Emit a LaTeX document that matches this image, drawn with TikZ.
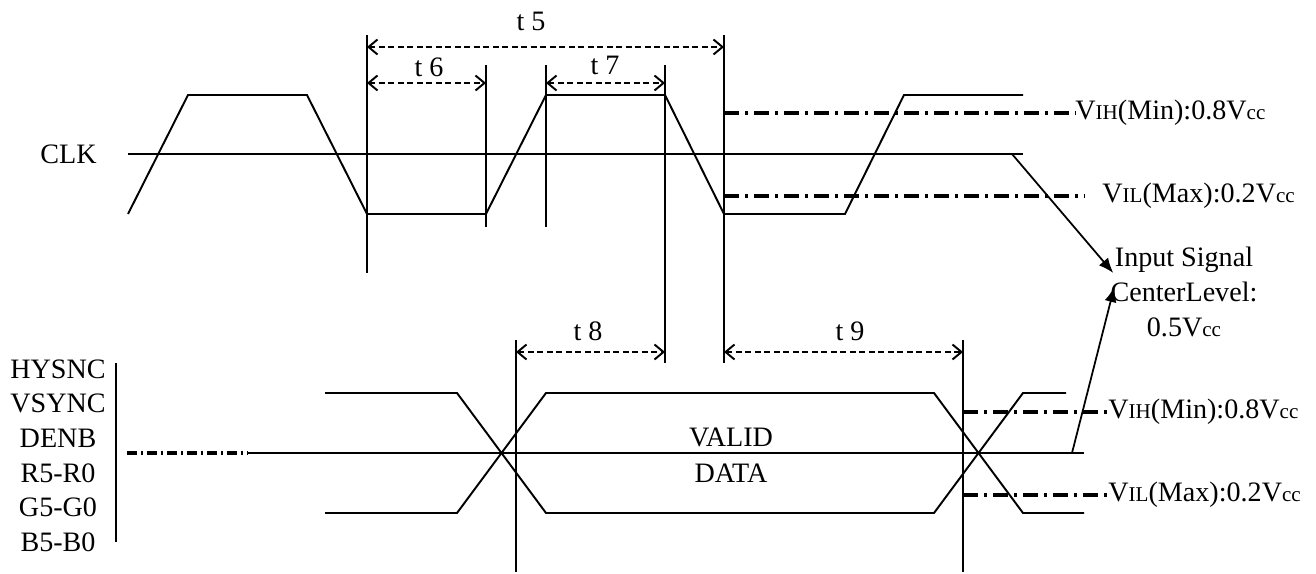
\documentclass[tikz,border=0pt]{standalone}
\usepackage{fontspec}
\setmainfont{Liberation Serif}
\usetikzlibrary{calc}
\usetikzlibrary{arrows.meta}
\newcommand{\smallpart}[1]{{\fontsize{12}{14}\selectfont #1}}
\tikzset{
  wave/.style={black, line width=1.1pt},
  guide/.style={black, line width=1pt},
  level/.style={black, line width=2.2pt, dash pattern=on 0.3cm off 0.12cm on 0.06cm off 0.12cm},
  dim/.style={black, line width=1.6pt, dash pattern=on 0.12cm off 0.07cm,
    {Straight Barb[length=1.8mm,width=3mm,line width=1.1pt]}-{Straight Barb[length=1.8mm,width=3mm,line width=1.1pt]}},
  lbl/.style={font=\fontsize{16}{20}\selectfont, inner sep=0},
  pointer/.style={black, line width=1pt, -{Latex[length=3mm,width=2.4mm]}},
}

\begin{document}
\begin{tikzpicture}[x=0.02cm, y=-0.02cm]
\useasboundingbox (0,0) rectangle (1316,574);
% clock
\node[lbl, left] (clk) at (97,154) {CLK};
\draw[wave] (128,154) -- (1023,154);
\draw[wave] (128,214) -- (188,95) -- (307,95) -- (367,214) -- (486,214) -- (546,95)
  -- (665,95) -- (724,214) -- (845,214) -- (904,95) -- (1023,95);
\foreach \x/\a/\b in {367/35/273, 486/65/227, 546/65/227, 665/65/363, 724/35/363, 516/340/572, 963/340/572}
  \draw[guide] (\x,\a) -- (\x,\b);
% timing marks
\foreach \a/\b/\y/\t/\lx/\ly in {367/724/47/5/531/21, 367/486/83/6/429/67, 546/665/83/7/605/65, 516/665/352/8/588/331, 724/963/352/9/850/331} {
  \draw[dim] (\a,\y) -- (\b,\y);
  \node[lbl] (t\t) at (\lx,\ly) {t~\t};
}
% levels
\node[lbl, right] (vihclk) at (1075,113) {V\smallpart{IH}(Min):0.8V\smallpart{cc}};
\node[lbl, right] (vilclk) at (1102,196) {V\smallpart{IL}(Max):0.2V\smallpart{cc}};
\node[lbl, right] (vihbus) at (1108,412) {V\smallpart{IH}(Min):0.8V\smallpart{cc}};
\node[lbl, right] (vilbus) at (1108,495) {V\smallpart{IL}(Max):0.2V\smallpart{cc}};
\draw[level] (724,113) -- (vihclk.west);
\draw[level] (724,196) -- ($(vilclk.west)+(-17,0)$);
\draw[level] (963,412) -- (vihbus.west);
\draw[level] (963,495) -- (vilbus.west);
% bus
\foreach \s [count=\i] in {HYSNC,VSYNC,DENB,R5-R0,G5-G0,B5-B0}
  \node[lbl] (sig\i) at (58,{334.5+34.6*\i}) {\s};
\draw[guide] (116,363) -- (116,542);
\draw[level, dash pattern=on 0.2cm off 0.08cm on 0.04cm off 0.08cm] (127,453) -- (248,453);
\draw[wave] (248,453) -- (1084,453);
\draw[wave] (325,393) -- (457,393) -- (546,513) -- (934,513) -- (1023,393) -- (1066,393);
\draw[wave] (325,513) -- (457,513) -- (546,393) -- (934,393) -- (1023,513) -- (1084,513);
\node[lbl] (valid) at (731,437) {VALID};
\node[lbl] (data) at (731,473) {DATA};
% center level
\node[lbl, align=center] (input) at (1184,292) {Input Signal\\CenterLevel:\\0.5V\smallpart{cc}};
\coordinate (clkend) at (1012,154);
\coordinate (busend) at (1072,453);
\draw[pointer] (clkend) -- ($(input.west)+(3,-19)$);
\draw[pointer] (busend) -- ($(input.west)+(4,-5)$);
\end{tikzpicture}
\end{document}
